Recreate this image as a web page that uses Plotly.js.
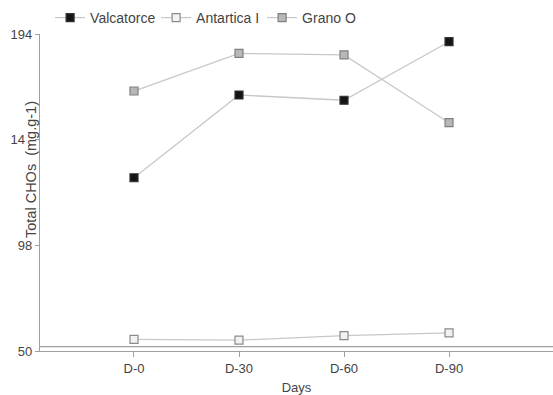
<!DOCTYPE html>
<html>
<head>
<meta charset="utf-8">
<script src="https://cdn.plot.ly/plotly-3.0.1.min.js"></script>
<style>html,body{margin:0;padding:0;background:#fff;}#chart{width:553px;height:395px;}</style>
</head>
<body>
<div id="chart"></div>
<script>
var categories = ["D-0", "D-30", "D-60", "D-90"];
var valcatorce = [128.7, 166.3, 163.9, 190.5];
var antartica = [55.3, 54.9, 57.0, 58.2];
var grano = [168.1, 185.2, 184.5, 153.7];
var yTickVals = [50, 98, 146, 194];
var yTickText = ["50", "98", "14\u2007", "194"];

var lineColor = "#c8c8c8";
function mk(name, y, fill, border) {
  return {
    type: "scatter", mode: "lines+markers", name: name,
    x: categories, y: y,
    line: {color: lineColor, width: 1.3},
    marker: {symbol: "square", size: 8, color: fill, line: {color: border, width: 1.2}}
  };
}
var data = [
  mk("Valcatorce", valcatorce, "#151515", "#333"),
  mk("Antartica I", antartica, "#f2f2f2", "#8a8a8a"),
  mk("Grano O", grano, "#b8b8b8", "#808080")
];
var layout = {
  width: 553, height: 395,
  margin: {l: 40, r: 0, t: 34, b: 44},
  paper_bgcolor: "#fff", plot_bgcolor: "#fff",
  font: {family: "Liberation Sans, Arial, sans-serif", size: 13, color: "#444"},
  showlegend: true,
  legend: {orientation: "h", x: 0.0197, y: 1.0, xanchor: "left", yanchor: "bottom",
           font: {size: 14, color: "#444"}, bgcolor: "rgba(0,0,0,0)",
           entrywidth: 61, entrywidthmode: "pixels"},
  xaxis: {
    type: "category", range: [-0.895, 3.99],
    showgrid: false, zeroline: false,
    showline: true, linecolor: "#a0a0a0", linewidth: 1.2,
    ticks: "outside", ticklen: 5, tickcolor: "#a0a0a0",
    tickfont: {size: 13, color: "#444"},
    title: {text: "Days", font: {size: 13, color: "#444"}, standoff: 9}
  },
  yaxis: {
    range: [50, 194], tickvals: yTickVals, ticktext: yTickText,
    showgrid: false, zeroline: false,
    showline: true, linecolor: "#a0a0a0", linewidth: 1.2,
    ticks: "outside", ticklen: 4, tickcolor: "#a0a0a0",
    tickfont: {size: 13, color: "#444"}
  },
  shapes: [{type: "line", xref: "paper", yref: "paper", x0: 0, x1: 1, y0: 0.0135, y1: 0.0135,
            line: {color: "#a0a0a0", width: 1.2}}],
  annotations: [{
    text: "Total CHOs  (mg.g-1)", xref: "paper", yref: "paper", x: 0, y: 0.571,
    xanchor: "right", yanchor: "middle", xshift: 1, textangle: -90, showarrow: false,
    font: {size: 14.5, color: "#444"}
  }]
};
Plotly.newPlot("chart", data, layout, {displayModeBar: false, staticPlot: true});
</script>
</body>
</html>
